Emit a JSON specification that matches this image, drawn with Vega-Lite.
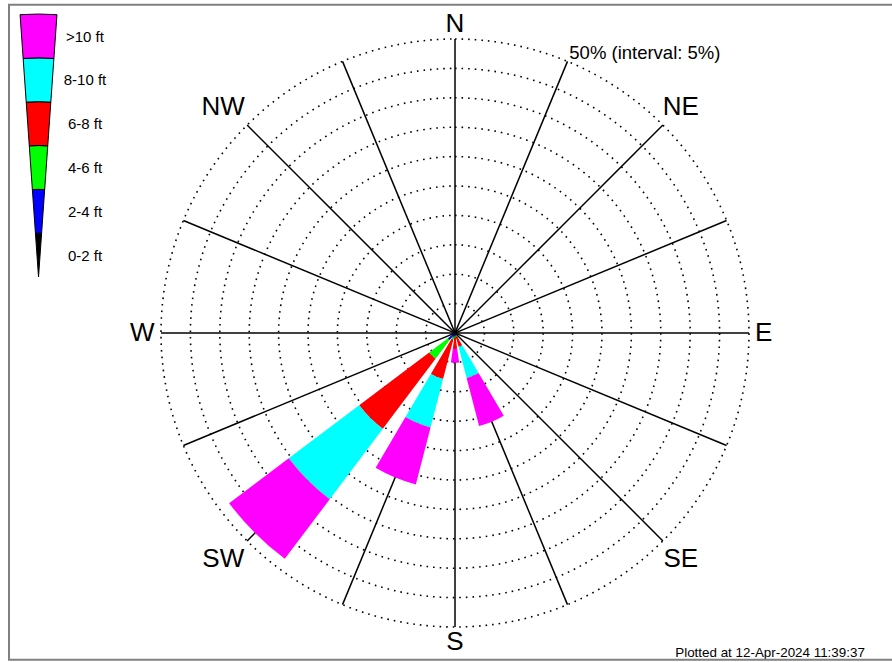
{
  "$schema": "https://vega.github.io/schema/vega-lite/v6.json",
  "width": 874,
  "height": 658,
  "autosize": "none",
  "padding": {"left": 18, "top": 4, "right": 0, "bottom": 0},
  "background": "white",
  "config": {"view": {"stroke": null}, "font": "Liberation Sans", "text": {"font": "Liberation Sans"}},
  "datasets": {
    "petals": [
      {"dir": 225, "bin": "0-2 ft", "lo": 0, "hi": 0.5},
      {"dir": 225, "bin": "2-4 ft", "lo": 0.5, "hi": 1.5},
      {"dir": 225, "bin": "4-6 ft", "lo": 1.5, "hi": 5.5},
      {"dir": 225, "bin": "6-8 ft", "lo": 5.5, "hi": 20.4},
      {"dir": 225, "bin": "8-10 ft", "lo": 20.4, "hi": 35.4},
      {"dir": 225, "bin": ">10 ft", "lo": 35.4, "hi": 48.1},
      {"dir": 202.5, "bin": "0-2 ft", "lo": 0, "hi": 0.3},
      {"dir": 202.5, "bin": "2-4 ft", "lo": 0.3, "hi": 0.7},
      {"dir": 202.5, "bin": "4-6 ft", "lo": 0.7, "hi": 1.2},
      {"dir": 202.5, "bin": "6-8 ft", "lo": 1.2, "hi": 8.1},
      {"dir": 202.5, "bin": "8-10 ft", "lo": 8.1, "hi": 16.6},
      {"dir": 202.5, "bin": ">10 ft", "lo": 16.6, "hi": 26.6},
      {"dir": 180, "bin": "0-2 ft", "lo": 0, "hi": 0.2},
      {"dir": 180, "bin": "2-4 ft", "lo": 0.2, "hi": 0.5},
      {"dir": 180, "bin": "4-6 ft", "lo": 0.5, "hi": 0.8},
      {"dir": 180, "bin": "6-8 ft", "lo": 0.8, "hi": 2.7},
      {"dir": 180, "bin": ">10 ft", "lo": 2.7, "hi": 5.05},
      {"dir": 157.5, "bin": "0-2 ft", "lo": 0, "hi": 0.2},
      {"dir": 157.5, "bin": "2-4 ft", "lo": 0.2, "hi": 0.4},
      {"dir": 157.5, "bin": "4-6 ft", "lo": 0.4, "hi": 0.7},
      {"dir": 157.5, "bin": "6-8 ft", "lo": 0.7, "hi": 2.4},
      {"dir": 157.5, "bin": "8-10 ft", "lo": 2.4, "hi": 7.9},
      {"dir": 157.5, "bin": ">10 ft", "lo": 7.9, "hi": 16.35}
    ],
    "rings": [{"r": 5}, {"r": 10}, {"r": 15}, {"r": 20}, {"r": 25}, {"r": 30}, {"r": 35}, {"r": 40}, {"r": 45}, {"r": 50}],
    "spokes": [
      {"bearing": 0, "x1": 0, "y1": 50, "x2": 0, "y2": -50},
      {"bearing": 22.5, "x1": 19.13, "y1": 46.19, "x2": -19.13, "y2": -46.19},
      {"bearing": 45, "x1": 35.36, "y1": 35.36, "x2": -35.36, "y2": -35.36},
      {"bearing": 67.5, "x1": 46.19, "y1": 19.13, "x2": -46.19, "y2": -19.13},
      {"bearing": 90, "x1": 50, "y1": 0, "x2": -50, "y2": 0},
      {"bearing": 112.5, "x1": 46.19, "y1": -19.13, "x2": -46.19, "y2": 19.13},
      {"bearing": 135, "x1": 35.36, "y1": -35.36, "x2": -35.36, "y2": 35.36},
      {"bearing": 157.5, "x1": 19.13, "y1": -46.19, "x2": -19.13, "y2": 46.19}
    ],
    "compass": [
      {"label": "N", "bearing": 0, "kind": "cardinal"},
      {"label": "NE", "bearing": 45, "kind": "inter"},
      {"label": "E", "bearing": 90, "kind": "cardinal"},
      {"label": "SE", "bearing": 135, "kind": "inter"},
      {"label": "S", "bearing": 180, "kind": "cardinal"},
      {"label": "SW", "bearing": 225, "kind": "inter"},
      {"label": "W", "bearing": 270, "kind": "cardinal"},
      {"label": "NW", "bearing": 315, "kind": "inter"}
    ],
    "legend": [
      {"bin": "0-2 ft", "k0": 0, "k1": 1},
      {"bin": "2-4 ft", "k0": 1, "k1": 2},
      {"bin": "4-6 ft", "k0": 2, "k1": 3},
      {"bin": "6-8 ft", "k0": 3, "k1": 4},
      {"bin": "8-10 ft", "k0": 4, "k1": 5},
      {"bin": ">10 ft", "k0": 5, "k1": 6}
    ]
  },
  "resolve": {"scale": {"y": "independent", "radius": "independent"}},
  "layer": [
    {
      "data": {"name": "rings"},
      "mark": {"type": "arc", "filled": false, "stroke": "black", "strokeWidth": 1.6, "strokeDash": [1.6, 5]},
      "encoding": {
        "theta": {"datum": 0, "type": "quantitative", "scale": {"domain": [0, 360], "range": [0, 6.283185307179586]}},
        "theta2": {"datum": 360},
        "radius": {"field": "r", "type": "quantitative", "stack": null, "scale": {"type": "linear", "domain": [0, 50], "range": [0, 294], "zero": true, "nice": false}}
      }
    },
    {
      "data": {"name": "spokes"},
      "mark": {"type": "rule", "color": "black", "strokeWidth": 1.5},
      "encoding": {
        "x": {"field": "x1", "type": "quantitative", "axis": null, "scale": {"domain": [-74.32, 74.32], "nice": false, "zero": false}},
        "y": {"field": "y1", "type": "quantitative", "axis": null, "scale": {"domain": [-55.95, 55.95], "nice": false, "zero": false}},
        "x2": {"field": "x2"},
        "y2": {"field": "y2"}
      }
    },
    {
      "data": {"name": "petals"},
      "mark": {"type": "arc", "thetaOffset": -0.1396, "theta2Offset": 0.1396},
      "encoding": {
        "theta": {"field": "dir", "type": "quantitative", "stack": null, "scale": {"domain": [0, 360], "range": [0, 6.283185307179586]}},
        "theta2": {"field": "dir"},
        "radius": {"field": "hi", "type": "quantitative", "stack": null, "scale": {"type": "linear", "domain": [0, 50], "range": [0, 294], "zero": true, "nice": false}},
        "radius2": {"field": "lo"},
        "color": {"field": "bin", "type": "nominal", "legend": null,
          "scale": {"domain": ["0-2 ft", "2-4 ft", "4-6 ft", "6-8 ft", "8-10 ft", ">10 ft"],
                    "range": ["#000000", "#0000ff", "#00ff00", "#ff0000", "#00ffff", "#ff00ff"]}}
      }
    },
    {
      "data": {"name": "compass"},
      "transform": [{"filter": "datum.kind === 'cardinal' && datum.bearing !== 270"}],
      "mark": {"type": "text", "fontSize": 26, "align": "center", "baseline": "middle", "color": "black"},
      "encoding": {
        "theta": {"field": "bearing", "type": "quantitative", "stack": null, "scale": {"domain": [0, 360], "range": [0, 6.283185307179586]}},
        "radius": {"datum": 52.5, "type": "quantitative", "scale": {"type": "linear", "domain": [0, 50], "range": [0, 294], "zero": true, "nice": false}},
        "text": {"field": "label"}
      }
    },
    {
      "data": {"name": "compass"},
      "transform": [{"filter": "datum.bearing === 270"}],
      "mark": {"type": "text", "fontSize": 26, "align": "center", "baseline": "middle", "color": "black", "dx": -4},
      "encoding": {
        "theta": {"field": "bearing", "type": "quantitative", "stack": null, "scale": {"domain": [0, 360], "range": [0, 6.283185307179586]}},
        "radius": {"datum": 52.5, "type": "quantitative", "scale": {"type": "linear", "domain": [0, 50], "range": [0, 294], "zero": true, "nice": false}},
        "text": {"field": "label"}
      }
    },
    {
      "data": {"name": "compass"},
      "transform": [{"filter": "datum.kind === 'inter' && datum.bearing < 180"}],
      "mark": {"type": "text", "fontSize": 26, "align": "center", "baseline": "middle", "color": "black"},
      "encoding": {
        "theta": {"field": "bearing", "type": "quantitative", "stack": null, "scale": {"domain": [0, 360], "range": [0, 6.283185307179586]}},
        "radius": {"datum": 54.3, "type": "quantitative", "scale": {"type": "linear", "domain": [0, 50], "range": [0, 294], "zero": true, "nice": false}},
        "text": {"field": "label"}
      }
    },
    {
      "data": {"name": "compass"},
      "transform": [{"filter": "datum.kind === 'inter' && datum.bearing > 180"}],
      "mark": {"type": "text", "fontSize": 26, "align": "center", "baseline": "middle", "color": "black", "dx": -6},
      "encoding": {
        "theta": {"field": "bearing", "type": "quantitative", "stack": null, "scale": {"domain": [0, 360], "range": [0, 6.283185307179586]}},
        "radius": {"datum": 54.3, "type": "quantitative", "scale": {"type": "linear", "domain": [0, 50], "range": [0, 294], "zero": true, "nice": false}},
        "text": {"field": "label"}
      }
    },
    {
      "data": {"values": [{"t": "50% (interval: 5%)"}]},
      "mark": {"type": "text", "fontSize": 18.5, "align": "left", "baseline": "middle", "color": "black"},
      "encoding": {
        "x": {"datum": 19.44, "type": "quantitative", "axis": null, "scale": {"domain": [-74.32, 74.32], "nice": false, "zero": false}},
        "y": {"datum": 47.7, "type": "quantitative", "axis": null, "scale": {"domain": [-55.95, 55.95], "nice": false, "zero": false}},
        "text": {"field": "t"}
      }
    },
    {
      "data": {"values": [{"t": "Plotted at 12-Apr-2024 11:39:37"}]},
      "mark": {"type": "text", "fontSize": 13.4, "align": "right", "baseline": "middle", "color": "black"},
      "encoding": {
        "x": {"datum": 69.7, "type": "quantitative", "axis": null, "scale": {"domain": [-74.32, 74.32], "nice": false, "zero": false}},
        "y": {"datum": -54.46, "type": "quantitative", "axis": null, "scale": {"domain": [-55.95, 55.95], "nice": false, "zero": false}},
        "text": {"field": "t"}
      }
    },
    {
      "data": {"name": "legend"},
      "mark": {"type": "arc", "thetaOffset": -0.0702, "theta2Offset": 0.0702, "stroke": "black", "strokeWidth": 1},
      "encoding": {
        "x": {"datum": -70.83, "type": "quantitative", "axis": null, "scale": {"domain": [-74.32, 74.32], "nice": false, "zero": false}},
        "y": {"datum": 9.52, "type": "quantitative", "axis": null, "scale": {"domain": [-55.95, 55.95], "nice": false, "zero": false}},
        "theta": {"datum": 0, "type": "quantitative", "scale": {"domain": [0, 360], "range": [0, 6.283185307179586]}},
        "theta2": {"datum": 0},
        "radius": {"field": "k1", "type": "quantitative", "stack": null, "scale": {"type": "linear", "domain": [0, 6], "range": [0, 263], "zero": true, "nice": false}},
        "radius2": {"field": "k0"},
        "color": {"field": "bin", "type": "nominal", "legend": null,
          "scale": {"domain": ["0-2 ft", "2-4 ft", "4-6 ft", "6-8 ft", "8-10 ft", ">10 ft"],
                    "range": ["#000000", "#0000ff", "#00ff00", "#ff0000", "#00ffff", "#ff00ff"]}}
      }
    },
    {
      "data": {"name": "legend"},
      "mark": {"type": "text", "fontSize": 15, "align": "center", "baseline": "middle", "color": "black"},
      "encoding": {
        "x": {"datum": -62.93, "type": "quantitative", "axis": null, "scale": {"domain": [-74.32, 74.32], "nice": false, "zero": false}},
        "y": {"field": "bin", "type": "nominal", "axis": null, "scale": {"type": "point", "domain": [">10 ft", "8-10 ft", "6-8 ft", "4-6 ft", "2-4 ft", "0-2 ft"], "range": [32.5, 251.5], "padding": 0}},
        "text": {"field": "bin"}
      }
    },
    {
      "data": {"values": [{"f": "frame"}]},
      "mark": {"type": "rect", "filled": false, "stroke": "#808080", "strokeWidth": 2},
      "encoding": {
        "x": {"datum": -75.85, "type": "quantitative", "axis": null, "scale": {"domain": [-74.32, 74.32], "nice": false, "zero": false}},
        "x2": {"datum": 80},
        "y": {"datum": 55.83, "type": "quantitative", "axis": null, "scale": {"domain": [-55.95, 55.95], "nice": false, "zero": false}},
        "y2": {"datum": -55.56}
      }
    }
  ]
}
